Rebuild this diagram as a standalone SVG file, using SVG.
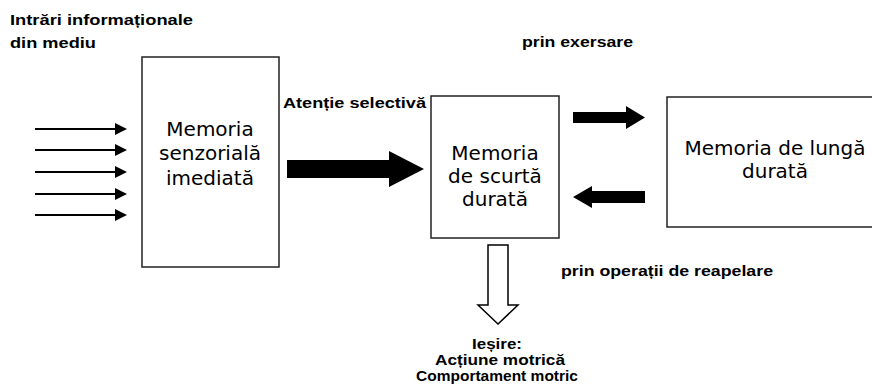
<svg xmlns="http://www.w3.org/2000/svg" width="872" height="392" viewBox="0 0 872 392">
<style>
.box{fill:#fff;stroke:#222;stroke-width:1.5}
.bt{font-family:"DejaVu Sans",Verdana,sans-serif;font-size:20px;fill:#000;text-anchor:middle}
.lb{font-family:"Liberation Sans",Arial,sans-serif;font-weight:bold;font-size:15px;fill:#000}
.in{stroke:#000;stroke-width:2;fill:none}
.solid{fill:#000;stroke:none}
</style>
<rect width="872" height="392" fill="#fff"/>
<g id="labels">
<text class="lb" x="10" y="25" textLength="183" lengthAdjust="spacingAndGlyphs">Intrări informaționale</text>
<text class="lb" x="10" y="48" textLength="86" lengthAdjust="spacingAndGlyphs">din mediu</text>
<text class="lb" x="522" y="47" textLength="111" lengthAdjust="spacingAndGlyphs">prin exersare</text>
<text class="lb" x="283" y="108" textLength="143" lengthAdjust="spacingAndGlyphs">Atenție selectivă</text>
<text class="lb" x="561" y="276" textLength="212" lengthAdjust="spacingAndGlyphs">prin operații de reapelare</text>
</g>
<g id="node-senzoriala">
<rect class="box" x="142" y="57" width="137" height="210"/>
<text class="bt" x="210" y="136">Memoria</text>
<text class="bt" x="210" y="160">senzorială</text>
<text class="bt" x="210" y="185">imediată</text>
</g>
<g id="node-scurta">
<rect class="box" x="431" y="96" width="128" height="142"/>
<text class="bt" x="495" y="160">Memoria</text>
<text class="bt" x="495" y="183">de scurtă</text>
<text class="bt" x="495" y="206">durată</text>
</g>
<g id="node-lunga">
<rect class="box" x="667" y="97" width="210" height="130"/>
<text class="bt" x="775" y="155">Memoria de lungă</text>
<text class="bt" x="775" y="178">durată</text>
</g>
<g id="node-iesire">
<text class="lb" x="497" y="349" text-anchor="middle" textLength="50" lengthAdjust="spacingAndGlyphs">Ieșire:</text>
<text class="lb" x="500" y="365" text-anchor="middle" textLength="130" lengthAdjust="spacingAndGlyphs">Acțiune motrică</text>
<text class="lb" x="497" y="381" text-anchor="middle" textLength="162" lengthAdjust="spacingAndGlyphs">Comportament motric</text>
</g>
<g id="connectors">
<g id="inputs">
<line class="in" x1="35" y1="129" x2="117" y2="129"/>
<polygon class="solid" points="115,123 127,129 115,135"/>
<line class="in" x1="35" y1="150" x2="117" y2="150"/>
<polygon class="solid" points="115,144 127,150 115,156"/>
<line class="in" x1="35" y1="172" x2="117" y2="172"/>
<polygon class="solid" points="115,166 127,172 115,178"/>
<line class="in" x1="35" y1="194" x2="117" y2="194"/>
<polygon class="solid" points="115,188 127,194 115,200"/>
<line class="in" x1="35" y1="215" x2="117" y2="215"/>
<polygon class="solid" points="115,209 127,215 115,221"/>
</g>
<polygon id="atentie" class="solid" points="287,160 389,160 389,151 424,169 389,187 389,178 287,178"/>
<polygon id="exersare" class="solid" points="573,112 626,112 626,106 645,117.5 626,129 626,123 573,123"/>
<polygon id="reapelare" class="solid" points="645,191 592,191 592,186 573,197 592,208 592,203 645,203"/>
<path id="out" d="M488,245 H508 V305 H518 L498,324 L478,305 H488 Z" fill="#fff" stroke="#000" stroke-width="1.5"/>
</g>
</svg>
